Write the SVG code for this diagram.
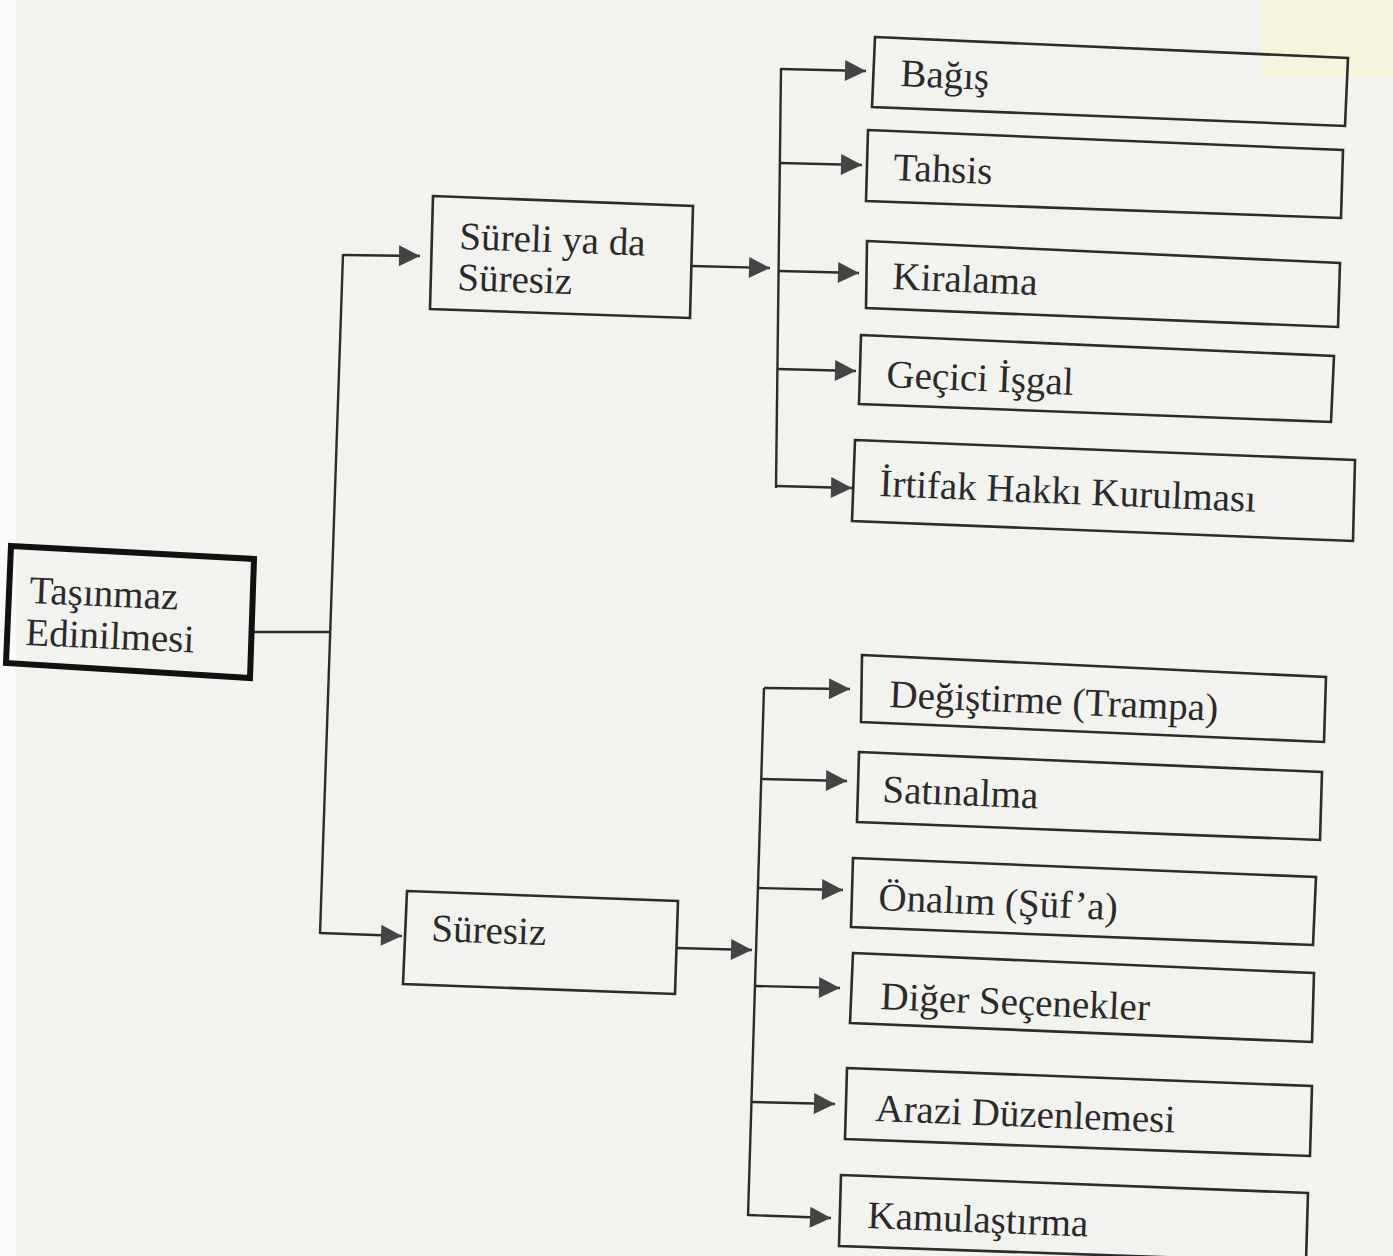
<svg xmlns="http://www.w3.org/2000/svg" width="1393" height="1256" viewBox="0 0 1393 1256">
<style>
.bg{fill:#f2f2ef}
.box{fill:none;stroke:#2b2b2b;stroke-width:2.6;stroke-linejoin:miter}
.root{fill:none;stroke:#111;stroke-width:6}
.ln{fill:none;stroke:#2b2b2b;stroke-width:2.4}
.t{font-family:"Liberation Serif","DejaVu Serif",serif;font-size:39px;fill:#2a2a2a}
</style>
<defs>
<marker id="ah" viewBox="0 0 10 10" refX="10" refY="5" markerUnits="userSpaceOnUse" markerWidth="25" markerHeight="21" orient="auto">
<path d="M0,0 L10,5 L0,10 z" fill="#444"/>
</marker>
</defs>
<rect class="bg" x="0" y="0" width="1393" height="1256"/>
<rect x="0" y="0" width="16" height="1256" fill="#fbfbfb"/>
<rect x="1262" y="0" width="131" height="76" fill="#f5f5dc"/>

<g id="connectors">
<polyline class="ln" points="252,632 330,632"/>
<polyline class="ln" points="343,254 320,934"/>
<polyline class="ln" points="343,255 420,256" marker-end="url(#ah)"/>
<polyline class="ln" points="320,933 402,936" marker-end="url(#ah)"/>

<polyline class="ln" points="692,266 770,268" marker-end="url(#ah)"/>
<polyline class="ln" points="781,68 776,488"/>
<polyline class="ln" points="781,69 866,71" marker-end="url(#ah)"/>
<polyline class="ln" points="780,163 862,165" marker-end="url(#ah)"/>
<polyline class="ln" points="779,271 859,273" marker-end="url(#ah)"/>
<polyline class="ln" points="777,369 856,371" marker-end="url(#ah)"/>
<polyline class="ln" points="776,486 852,488" marker-end="url(#ah)"/>

<polyline class="ln" points="676,948 752,950" marker-end="url(#ah)"/>
<polyline class="ln" points="764,688 748,1216"/>
<polyline class="ln" points="764,688 850,689" marker-end="url(#ah)"/>
<polyline class="ln" points="761,779 847,781" marker-end="url(#ah)"/>
<polyline class="ln" points="758,888 843,890" marker-end="url(#ah)"/>
<polyline class="ln" points="755,986 840,988" marker-end="url(#ah)"/>
<polyline class="ln" points="751,1102 835,1104" marker-end="url(#ah)"/>
<polyline class="ln" points="748,1215 831,1218" marker-end="url(#ah)"/>
</g>

<g id="n-root">
<polygon class="root" points="11,546 254,559 250,678 6,663"/>
<text class="t" x="29" y="603" transform="rotate(2.5 29 603)">Taşınmaz</text>
<text class="t" x="25" y="645" transform="rotate(2.5 25 645)">Edinilmesi</text>
</g>

<g id="n-sureli">
<polygon class="box" points="433,196 693,206 690,318 430,309"/>
<text class="t" x="459" y="249" transform="rotate(2 459 249)">Süreli ya da</text>
<text class="t" x="457" y="290" transform="rotate(2 457 290)">Süresiz</text>
</g>

<g id="n-suresiz">
<polygon class="box" points="407,891 678,901 675,994 403,984"/>
<text class="t" x="431" y="941" transform="rotate(2 431 941)">Süresiz</text>
</g>

<g id="n-bagis">
<polygon class="box" points="875,37 1348,58 1345,126 872,107"/>
<text class="t" x="900" y="86" transform="rotate(2.4 900 86)">Bağış</text>
</g>
<g id="n-tahsis">
<polygon class="box" points="868,130 1343,150 1341,218 866,201"/>
<text class="t" x="893" y="180" transform="rotate(2.4 893 180)">Tahsis</text>
</g>
<g id="n-kiralama">
<polygon class="box" points="867,241 1340,263 1338,327 866,308"/>
<text class="t" x="892" y="289" transform="rotate(2.4 892 289)">Kiralama</text>
</g>
<g id="n-gecici">
<polygon class="box" points="861,335 1334,356 1331,422 859,404"/>
<text class="t" x="886" y="387" transform="rotate(2.4 886 387)">Geçici İşgal</text>
</g>
<g id="n-irtifak">
<polygon class="box" points="855,440 1355,460 1353,541 852,521"/>
<text class="t" x="879" y="496" transform="rotate(2.4 879 496)">İrtifak Hakkı Kurulması</text>
</g>

<g id="n-degistirme">
<polygon class="box" points="862,655 1326,677 1324,742 861,722"/>
<text class="t" x="889" y="707" transform="rotate(2.4 889 707)">Değiştirme (Trampa)</text>
</g>
<g id="n-satinalma">
<polygon class="box" points="859,752 1322,772 1320,840 857,822"/>
<text class="t" x="882" y="802" transform="rotate(2.4 882 802)">Satınalma</text>
</g>
<g id="n-onalim">
<polygon class="box" points="853,858 1316,877 1313,945 851,927"/>
<text class="t" x="878" y="910" transform="rotate(2.4 878 910)">Önalım (Şüf’a)</text>
</g>
<g id="n-diger">
<polygon class="box" points="853,953 1314,973 1312,1042 850,1023"/>
<text class="t" x="880" y="1009" transform="rotate(2.4 880 1009)">Diğer Seçenekler</text>
</g>
<g id="n-arazi">
<polygon class="box" points="847,1068 1312,1086 1310,1156 845,1139"/>
<text class="t" x="875" y="1121" transform="rotate(2.2 875 1121)">Arazi Düzenlemesi</text>
</g>
<g id="n-kamulastirma">
<polygon class="box" points="841,1175 1308,1193 1306,1262 839,1246"/>
<text class="t" x="867" y="1228" transform="rotate(2.2 867 1228)">Kamulaştırma</text>
</g>
</svg>
